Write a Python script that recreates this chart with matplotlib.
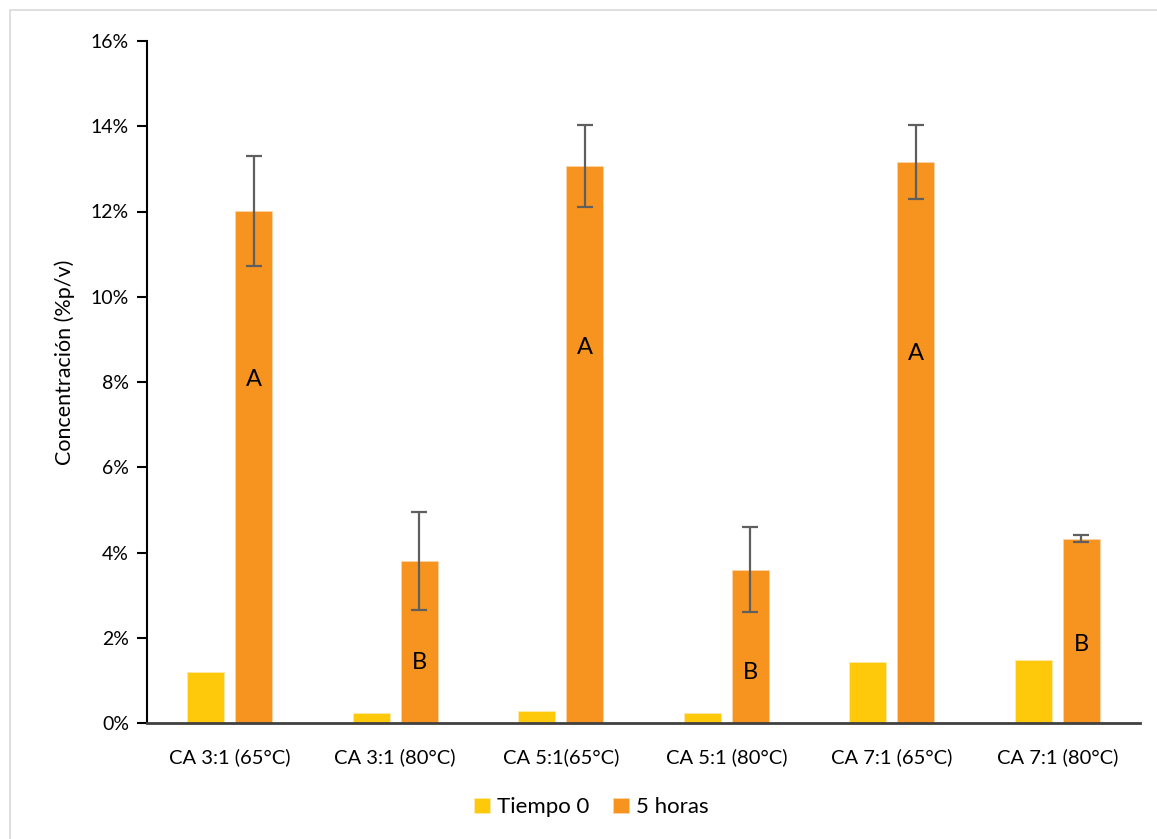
import numpy as np
import matplotlib
matplotlib.use("Agg")
import matplotlib.pyplot as plt
from matplotlib.patches import Rectangle
from matplotlib.ticker import FuncFormatter

plt.rcParams['font.family'] = ['Lato', 'DejaVu Sans']

# Data (% p/v)
categorias = ["CA 3:1 (65°C)", "CA 3:1 (80°C)", "CA 5:1(65°C)",
              "CA 5:1 (80°C)", "CA 7:1 (65°C)", "CA 7:1 (80°C)"]
tiempo0 = [1.20, 0.23, 0.28, 0.23, 1.43, 1.48]
horas5 = [12.01, 3.81, 13.07, 3.60, 13.16, 4.32]
err5 = [1.30, 1.15, 0.97, 1.00, 0.87, 0.08]
letras = ["A", "B", "A", "B", "A", "B"]
letras_y = [8.05, 1.42, 8.8, 1.18, 8.68, 1.83]

amarillo = '#ffc90b'
naranja = '#f7941f'

fig = plt.figure(figsize=(11.57, 8.39), dpi=100)
ax = fig.add_axes([147 / 1157, 1 - 723 / 839, (1140 - 147) / 1157, (723 - 41) / 839])

# light border around the chart area
fig.patches.append(Rectangle((10 / 1157, -0.01), 1.0, 1 - 10 / 839 + 0.01,
                             transform=fig.transFigure, fill=False,
                             edgecolor='#d9d9d9', linewidth=1.2))

x = np.arange(len(categorias))
w = 0.224
off = 0.145

ax.bar(x - off, tiempo0, width=w, color=amarillo, edgecolor='#ffe9a8',
       linewidth=0.6, label='Tiempo 0', zorder=2)
ax.bar(x + off, horas5, width=w, color=naranja, edgecolor='#fbd3a6',
       linewidth=0.6, label='5 horas', zorder=2)
ax.errorbar(x + off, horas5, yerr=err5, fmt='none', ecolor='#5f5f5f',
            elinewidth=1.6, capsize=6, capthick=1.6, zorder=3)

for xi, t, yy in zip(x + off, letras, letras_y):
    ax.text(xi, yy, t, ha='center', va='center', fontsize=17, color='black', zorder=4)

ax.set_xlim(-0.5, 5.5)
ax.set_ylim(0, 16)
ax.set_yticks(np.arange(0, 17, 2))
ax.yaxis.set_major_formatter(FuncFormatter(lambda v, p: f"{v:.0f}%"))
ax.set_xticks(x)
ax.set_xticklabels(categorias)

for s in ['top', 'right']:
    ax.spines[s].set_visible(False)
ax.spines['left'].set_linewidth(1.5)
ax.spines['left'].set_color('black')
ax.spines['bottom'].set_linewidth(2)
ax.spines['bottom'].set_color('#404040')

ax.tick_params(axis='y', direction='out', length=7, width=1.5, labelsize=14, pad=6)
ax.tick_params(axis='x', length=0, labelsize=14.5, pad=18)

ax.set_ylabel("Concentración (%p/v)", fontsize=15.5)
ax.yaxis.set_label_coords(-0.073, 0.529)

fig.legend(loc='center', bbox_to_anchor=(0.511, 0.038), ncol=2, frameon=False,
           fontsize=16, handlelength=0.7, handleheight=0.7, handletextpad=0.3,
           columnspacing=1.1)

fig.savefig('out.png', dpi=100)
